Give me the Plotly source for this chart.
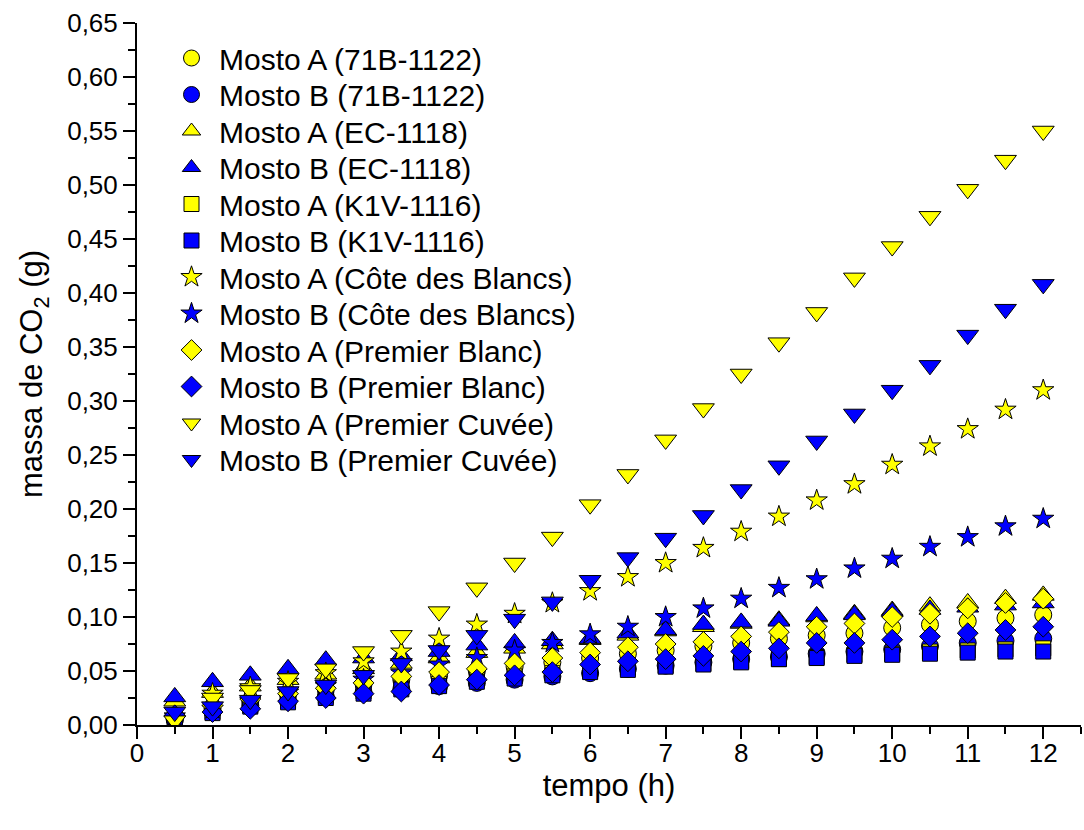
import plotly.graph_objects as go

t = [0.5, 1, 1.5, 2, 2.5, 3, 3.5, 4, 4.5, 5, 5.5, 6, 6.5, 7, 7.5, 8, 8.5, 9, 9.5, 10, 10.5, 11, 11.5, 12]

A_71B = [0.005, 0.015, 0.022, 0.028, 0.033, 0.038, 0.042, 0.046, 0.050, 0.054, 0.058, 0.062, 0.066, 0.069, 0.073, 0.076, 0.080, 0.083, 0.085, 0.090, 0.093, 0.096, 0.099, 0.102]
B_71B = [0.005, 0.012, 0.018, 0.022, 0.026, 0.030, 0.033, 0.036, 0.039, 0.042, 0.045, 0.048, 0.052, 0.055, 0.058, 0.061, 0.063, 0.066, 0.068, 0.070, 0.073, 0.076, 0.078, 0.080]
A_EC = [0.022, 0.030, 0.036, 0.042, 0.047, 0.052, 0.057, 0.062, 0.067, 0.071, 0.075, 0.079, 0.083, 0.087, 0.091, 0.094, 0.097, 0.100, 0.103, 0.106, 0.110, 0.113, 0.117, 0.120]
B_EC = [0.026, 0.040, 0.046, 0.052, 0.060, 0.062, 0.064, 0.068, 0.074, 0.076, 0.078, 0.080, 0.085, 0.088, 0.093, 0.095, 0.096, 0.101, 0.102, 0.105, 0.107, 0.109, 0.111, 0.113]
A_K1V = [0.004, 0.012, 0.018, 0.023, 0.027, 0.031, 0.035, 0.038, 0.042, 0.045, 0.048, 0.050, 0.053, 0.055, 0.057, 0.059, 0.061, 0.063, 0.065, 0.066, 0.068, 0.069, 0.070, 0.071]
B_K1V = [0.004, 0.011, 0.017, 0.021, 0.025, 0.029, 0.033, 0.036, 0.040, 0.043, 0.046, 0.049, 0.051, 0.054, 0.056, 0.058, 0.061, 0.062, 0.064, 0.065, 0.066, 0.067, 0.068, 0.068]
A_CdB = [0.005, 0.029, 0.035, 0.040, 0.048, 0.059, 0.068, 0.080, 0.093, 0.103, 0.113, 0.124, 0.137, 0.150, 0.164, 0.179, 0.193, 0.208, 0.223, 0.241, 0.258, 0.274, 0.292, 0.310]
B_CdB = [0.008, 0.015, 0.022, 0.030, 0.036, 0.042, 0.048, 0.056, 0.062, 0.069, 0.076, 0.084, 0.091, 0.100, 0.108, 0.117, 0.127, 0.135, 0.145, 0.154, 0.165, 0.174, 0.184, 0.191]
A_PB = [0.008, 0.018, 0.024, 0.029, 0.034, 0.039, 0.045, 0.049, 0.052, 0.057, 0.062, 0.067, 0.072, 0.075, 0.077, 0.082, 0.086, 0.091, 0.094, 0.100, 0.103, 0.108, 0.113, 0.117]
B_PB = [0.009, 0.012, 0.015, 0.022, 0.025, 0.029, 0.031, 0.037, 0.042, 0.046, 0.049, 0.056, 0.059, 0.061, 0.064, 0.068, 0.071, 0.076, 0.076, 0.079, 0.082, 0.085, 0.088, 0.091]
A_PC = [0.004, 0.025, 0.032, 0.043, 0.052, 0.068, 0.083, 0.105, 0.127, 0.150, 0.174, 0.204, 0.232, 0.264, 0.293, 0.325, 0.354, 0.382, 0.414, 0.443, 0.471, 0.496, 0.523, 0.550]
B_PC = [0.012, 0.017, 0.023, 0.031, 0.037, 0.046, 0.057, 0.069, 0.083, 0.098, 0.114, 0.134, 0.155, 0.173, 0.194, 0.218, 0.240, 0.263, 0.288, 0.310, 0.333, 0.361, 0.385, 0.408]

names = ["Mosto A (71B-1122)", "Mosto B (71B-1122)", "Mosto A (EC-1118)", "Mosto B (EC-1118)",
         "Mosto A (K1V-1116)", "Mosto B (K1V-1116)", "Mosto A (Côte des Blancs)", "Mosto B (Côte des Blancs)",
         "Mosto A (Premier Blanc)", "Mosto B (Premier Blanc)", "Mosto A (Premier Cuvée)", "Mosto B (Premier Cuvée)"]
series = [A_71B, B_71B, A_EC, B_EC, A_K1V, B_K1V, A_CdB, B_CdB, A_PB, B_PB, A_PC, B_PC]
symbols = ["circle", "circle", "triangle-up", "triangle-up", "square", "square",
           "star", "star", "diamond", "diamond", "triangle-down", "triangle-down"]
sizes = [17, 17, 19, 19, 15, 15, 16, 16, 16, 16, 19, 19]
colors = ["#FFFF00", "#0000FF"] * 6

FONT = "Liberation Sans, Arial, sans-serif"
L, B, W, H = 137, 105, 944, 702
fig = go.Figure()
legends = {}
for i, (nm, ys, sym, sz, col) in enumerate(zip(names, series, symbols, sizes, colors)):
    key = "legend" if i == 0 else f"legend{i + 1}"
    fig.add_trace(go.Scatter(
        x=t, y=ys, mode="markers", name=nm, legend=key,
        marker=dict(symbol=sym, size=sz, color=col, line=dict(color="black", width=1)),
    ))
    ypx = 58 + 36.5 * i
    legends[key] = dict(
        x=(164 - L) / W, y=(725 - ypx) / H, xanchor="left", yanchor="middle",
        bgcolor="rgba(0,0,0,0)", borderwidth=0, itemwidth=45,
        font=dict(family=FONT, size=30, color="black"),
    )

fig.update_layout(
    width=1084, height=830,
    margin=dict(l=L, r=3, t=23, b=B),
    plot_bgcolor="white", paper_bgcolor="white",
    separators=",.",
    showlegend=True,
    **legends,
)
axis_common = dict(
    showline=True, linecolor="black", linewidth=2, showgrid=False, zeroline=False,
    ticks="outside", ticklen=12, tickwidth=2, tickcolor="black",
    tickfont=dict(family=FONT, size=26, color="black"),
)
fig.update_xaxes(
    range=[0, 12.5], tick0=0, dtick=1, ticklabelstandoff=-8,
    minor=dict(ticks="outside", dtick=0.5, ticklen=7, tickwidth=2, tickcolor="black", showgrid=False),
    title=dict(text="tempo (h)", font=dict(family=FONT, size=31, color="black"), standoff=5),
    **axis_common,
)
fig.update_yaxes(
    range=[0, 0.65], tick0=0, dtick=0.05, tickformat=".2f",
    minor=dict(ticks="outside", dtick=0.025, ticklen=7, tickwidth=2, tickcolor="black", showgrid=False),
    title=dict(text="massa de CO<sub>2</sub> (g)", font=dict(family=FONT, size=31, color="black"), standoff=15),
    **axis_common,
)

fig.write_html("out.html")
